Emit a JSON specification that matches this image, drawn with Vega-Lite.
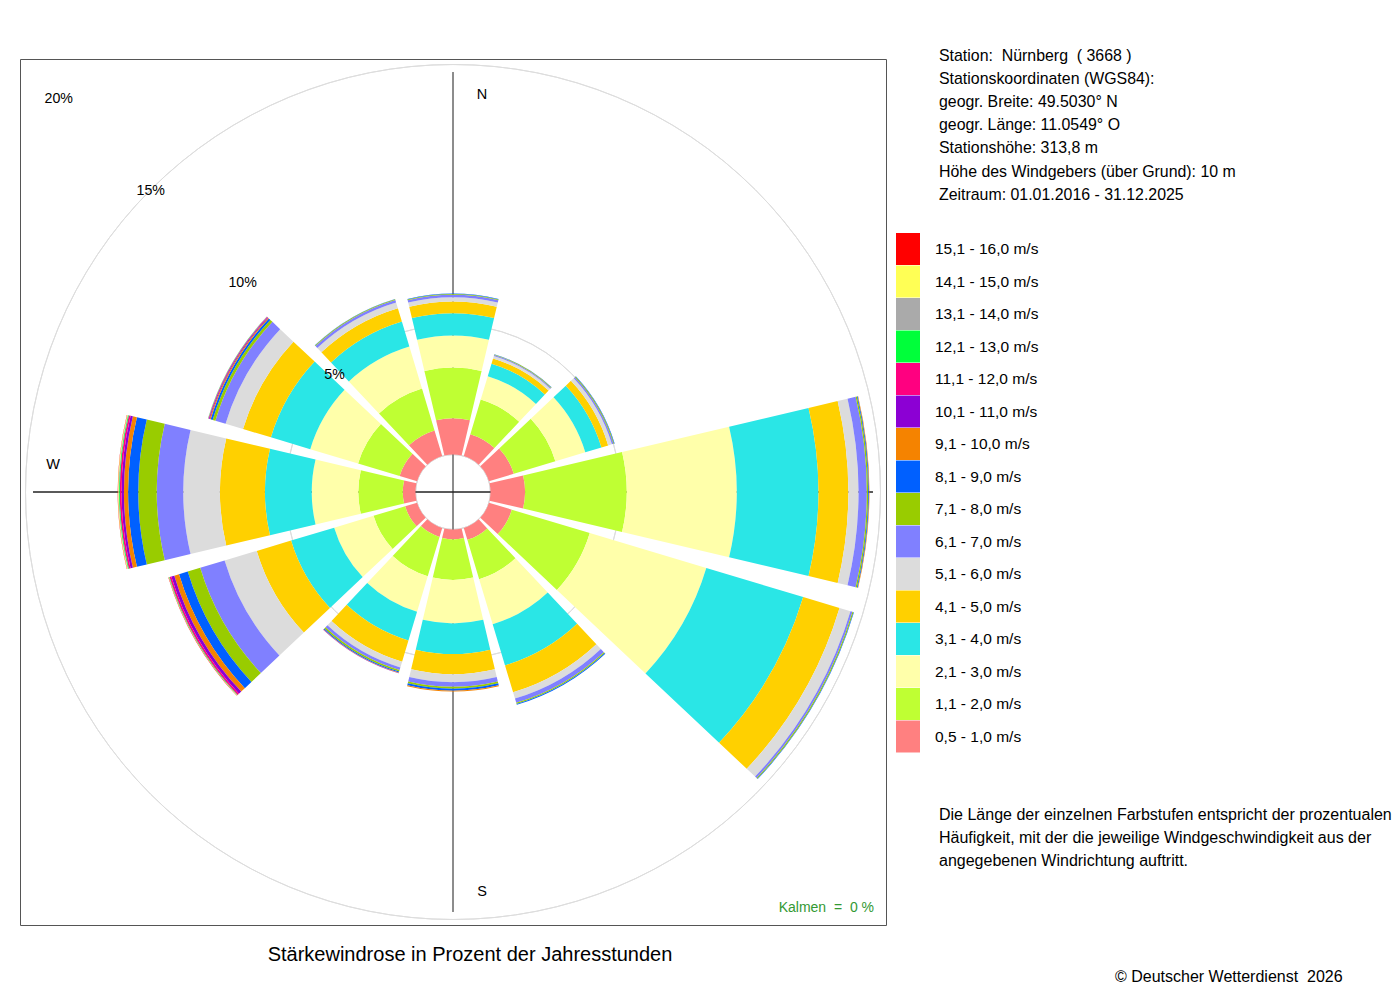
{
  "$schema": "https://vega.github.io/schema/vega-lite/v6.json",
  "width": 866,
  "height": 866,
  "autosize": "none",
  "padding": {"left": 20, "top": 59, "right": 514, "bottom": 75},
  "background": "white",
  "title": {
    "text": [
      "Station:\u00a0 Nürnberg\u00a0 ( 3668 )",
      "Stationskoordinaten (WGS84):",
      "geogr. Breite: 49.5030° N",
      "geogr. Länge: 11.0549° O",
      "Stationshöhe: 313,8 m",
      "Höhe des Windgebers (über Grund): 10 m",
      "Zeitraum: 01.01.2016 - 31.12.2025"
    ],
    "subtitle": [
      "Die Länge der einzelnen Farbstufen entspricht der prozentualen",
      "Häufigkeit, mit der die jeweilige Windgeschwindigkeit aus der",
      "angegebenen Windrichtung auftritt."
    ],
    "orient": "top",
    "anchor": "start",
    "frame": "group",
    "offset": 0,
    "dx": 919,
    "dy": 810.5,
    "font": "Liberation Sans",
    "fontSize": 15.9,
    "fontWeight": "normal",
    "lineHeight": 23.2,
    "color": "black",
    "subtitleFont": "Liberation Sans",
    "subtitleFontSize": 16,
    "subtitleLineHeight": 23.1,
    "subtitleColor": "black",
    "subtitlePadding": 604.6
  },
  "config": {
    "font": "Liberation Sans",
    "view": {"stroke": "#555555", "strokeWidth": 1}
  },
  "layer": [
    {
      "data": {"values": [{"pct": 0}, {"pct": 5}, {"pct": 10}, {"pct": 15}, {"pct": 20}]},
      "mark": {"type": "arc", "filled": false, "stroke": "#dddddd", "strokeWidth": 1, "clip": true},
      "encoding": {
        "theta": {"datum": 0, "type": "quantitative", "scale": {"type": "linear", "domain": [0, 360], "range": [0, 6.283185307179586], "zero": false, "nice": false}},
        "theta2": {"datum": 360},
        "radius": {"field": "pct", "type": "quantitative", "scale": {"type": "linear", "domain": [0, 20], "range": [37.5, 557.5], "zero": false, "nice": false}},
        "radius2": {"value": 0}
      }
    },
    {
      "data": {"values": [{"dir": 0}, {"dir": 180}]},
      "mark": {"type": "arc", "filled": false, "stroke": "#666666", "strokeWidth": 1},
      "encoding": {
        "theta": {"field": "dir", "type": "quantitative", "stack": null},
        "theta2": {"field": "dir"},
        "radius": {"datum": 14.71, "type": "quantitative"},
        "radius2": {"value": 0}
      }
    },
    {
      "data": {"values": [{"dir": 90}, {"dir": 270}]},
      "mark": {"type": "arc", "filled": false, "stroke": "#222222", "strokeWidth": 1},
      "encoding": {
        "theta": {"field": "dir", "type": "quantitative", "stack": null},
        "theta2": {"field": "dir"},
        "radius": {"datum": 14.71, "type": "quantitative"},
        "radius2": {"value": 0}
      }
    },
    {
      "data": {"values": [
        {"dir": 0, "k": "0,5 - 1,0 m/s", "von": 0, "bis": 1.39},
        {"dir": 0, "k": "1,1 - 2,0 m/s", "von": 1.39, "bis": 3.34},
        {"dir": 0, "k": "2,1 - 3,0 m/s", "von": 3.34, "bis": 4.57},
        {"dir": 0, "k": "3,1 - 4,0 m/s", "von": 4.57, "bis": 5.43},
        {"dir": 0, "k": "4,1 - 5,0 m/s", "von": 5.43, "bis": 5.88},
        {"dir": 0, "k": "5,1 - 6,0 m/s", "von": 5.88, "bis": 6.05},
        {"dir": 0, "k": "6,1 - 7,0 m/s", "von": 6.05, "bis": 6.14},
        {"dir": 0, "k": "7,1 - 8,0 m/s", "von": 6.14, "bis": 6.17},
        {"dir": 0, "k": "8,1 - 9,0 m/s", "von": 6.17, "bis": 6.19},

        {"dir": 30, "k": "0,5 - 1,0 m/s", "von": 0, "bis": 0.88},
        {"dir": 30, "k": "1,1 - 2,0 m/s", "von": 0.88, "bis": 2.27},
        {"dir": 30, "k": "2,1 - 3,0 m/s", "von": 2.27, "bis": 3.21},
        {"dir": 30, "k": "3,1 - 4,0 m/s", "von": 3.21, "bis": 3.71},
        {"dir": 30, "k": "4,1 - 5,0 m/s", "von": 3.71, "bis": 3.92},
        {"dir": 30, "k": "5,1 - 6,0 m/s", "von": 3.92, "bis": 4.02},
        {"dir": 30, "k": "6,1 - 7,0 m/s", "von": 4.02, "bis": 4.06},
        {"dir": 30, "k": "7,1 - 8,0 m/s", "von": 4.06, "bis": 4.08},
        {"dir": 30, "k": "8,1 - 9,0 m/s", "von": 4.08, "bis": 4.09},

        {"dir": 60, "k": "0,5 - 1,0 m/s", "von": 0, "bis": 1.0},
        {"dir": 60, "k": "1,1 - 2,0 m/s", "von": 1.0, "bis": 2.67},
        {"dir": 60, "k": "2,1 - 3,0 m/s", "von": 2.67, "bis": 3.87},
        {"dir": 60, "k": "3,1 - 4,0 m/s", "von": 3.87, "bis": 4.52},
        {"dir": 60, "k": "4,1 - 5,0 m/s", "von": 4.52, "bis": 4.79},
        {"dir": 60, "k": "5,1 - 6,0 m/s", "von": 4.79, "bis": 4.94},
        {"dir": 60, "k": "6,1 - 7,0 m/s", "von": 4.94, "bis": 5.0},
        {"dir": 60, "k": "7,1 - 8,0 m/s", "von": 5.0, "bis": 5.03},
        {"dir": 60, "k": "8,1 - 9,0 m/s", "von": 5.03, "bis": 5.05},

        {"dir": 90, "k": "0,5 - 1,0 m/s", "von": 0, "bis": 1.33},
        {"dir": 90, "k": "1,1 - 2,0 m/s", "von": 1.33, "bis": 5.24},
        {"dir": 90, "k": "2,1 - 3,0 m/s", "von": 5.24, "bis": 9.47},
        {"dir": 90, "k": "3,1 - 4,0 m/s", "von": 9.47, "bis": 12.61},
        {"dir": 90, "k": "4,1 - 5,0 m/s", "von": 12.61, "bis": 13.76},
        {"dir": 90, "k": "5,1 - 6,0 m/s", "von": 13.76, "bis": 14.15},
        {"dir": 90, "k": "6,1 - 7,0 m/s", "von": 14.15, "bis": 14.47},
        {"dir": 90, "k": "7,1 - 8,0 m/s", "von": 14.47, "bis": 14.52},
        {"dir": 90, "k": "8,1 - 9,0 m/s", "von": 14.52, "bis": 14.55},
        {"dir": 90, "k": "9,1 - 10,0 m/s", "von": 14.55, "bis": 14.57},

        {"dir": 120, "k": "0,5 - 1,0 m/s", "von": 0, "bis": 0.92},
        {"dir": 120, "k": "1,1 - 2,0 m/s", "von": 0.92, "bis": 4.05},
        {"dir": 120, "k": "2,1 - 3,0 m/s", "von": 4.05, "bis": 8.73},
        {"dir": 120, "k": "3,1 - 4,0 m/s", "von": 8.73, "bis": 12.62},
        {"dir": 120, "k": "4,1 - 5,0 m/s", "von": 12.62, "bis": 14.08},
        {"dir": 120, "k": "5,1 - 6,0 m/s", "von": 14.08, "bis": 14.52},
        {"dir": 120, "k": "6,1 - 7,0 m/s", "von": 14.52, "bis": 14.6},
        {"dir": 120, "k": "7,1 - 8,0 m/s", "von": 14.6, "bis": 14.64},
        {"dir": 120, "k": "8,1 - 9,0 m/s", "von": 14.64, "bis": 14.66},

        {"dir": 150, "k": "0,5 - 1,0 m/s", "von": 0, "bis": 0.48},
        {"dir": 150, "k": "1,1 - 2,0 m/s", "von": 0.48, "bis": 2.06},
        {"dir": 150, "k": "2,1 - 3,0 m/s", "von": 2.06, "bis": 3.87},
        {"dir": 150, "k": "3,1 - 4,0 m/s", "von": 3.87, "bis": 5.52},
        {"dir": 150, "k": "4,1 - 5,0 m/s", "von": 5.52, "bis": 6.6},
        {"dir": 150, "k": "5,1 - 6,0 m/s", "von": 6.6, "bis": 6.85},
        {"dir": 150, "k": "6,1 - 7,0 m/s", "von": 6.85, "bis": 7.02},
        {"dir": 150, "k": "7,1 - 8,0 m/s", "von": 7.02, "bis": 7.07},
        {"dir": 150, "k": "8,1 - 9,0 m/s", "von": 7.07, "bis": 7.1},

        {"dir": 180, "k": "0,5 - 1,0 m/s", "von": 0, "bis": 0.38},
        {"dir": 180, "k": "1,1 - 2,0 m/s", "von": 0.38, "bis": 1.94},
        {"dir": 180, "k": "2,1 - 3,0 m/s", "von": 1.94, "bis": 3.61},
        {"dir": 180, "k": "3,1 - 4,0 m/s", "von": 3.61, "bis": 4.79},
        {"dir": 180, "k": "4,1 - 5,0 m/s", "von": 4.79, "bis": 5.56},
        {"dir": 180, "k": "5,1 - 6,0 m/s", "von": 5.56, "bis": 5.87},
        {"dir": 180, "k": "6,1 - 7,0 m/s", "von": 5.87, "bis": 6.05},
        {"dir": 180, "k": "7,1 - 8,0 m/s", "von": 6.05, "bis": 6.12},
        {"dir": 180, "k": "8,1 - 9,0 m/s", "von": 6.12, "bis": 6.2},
        {"dir": 180, "k": "9,1 - 10,0 m/s", "von": 6.2, "bis": 6.23},

        {"dir": 210, "k": "0,5 - 1,0 m/s", "von": 0, "bis": 0.36},
        {"dir": 210, "k": "1,1 - 2,0 m/s", "von": 0.36, "bis": 1.94},
        {"dir": 210, "k": "2,1 - 3,0 m/s", "von": 1.94, "bis": 3.37},
        {"dir": 210, "k": "3,1 - 4,0 m/s", "von": 3.37, "bis": 4.52},
        {"dir": 210, "k": "4,1 - 5,0 m/s", "von": 4.52, "bis": 5.37},
        {"dir": 210, "k": "5,1 - 6,0 m/s", "von": 5.37, "bis": 5.6},
        {"dir": 210, "k": "6,1 - 7,0 m/s", "von": 5.6, "bis": 5.71},
        {"dir": 210, "k": "7,1 - 8,0 m/s", "von": 5.71, "bis": 5.77},
        {"dir": 210, "k": "8,1 - 9,0 m/s", "von": 5.77, "bis": 5.81},
        {"dir": 210, "k": "9,1 - 10,0 m/s", "von": 5.81, "bis": 5.83},
        {"dir": 210, "k": "10,1 - 11,0 m/s", "von": 5.83, "bis": 5.84},

        {"dir": 240, "k": "0,5 - 1,0 m/s", "von": 0, "bis": 0.48},
        {"dir": 240, "k": "1,1 - 2,0 m/s", "von": 0.48, "bis": 1.75},
        {"dir": 240, "k": "2,1 - 3,0 m/s", "von": 1.75, "bis": 3.33},
        {"dir": 240, "k": "3,1 - 4,0 m/s", "von": 3.33, "bis": 5.06},
        {"dir": 240, "k": "4,1 - 5,0 m/s", "von": 5.06, "bis": 6.44},
        {"dir": 240, "k": "5,1 - 6,0 m/s", "von": 6.44, "bis": 7.73},
        {"dir": 240, "k": "6,1 - 7,0 m/s", "von": 7.73, "bis": 8.71},
        {"dir": 240, "k": "7,1 - 8,0 m/s", "von": 8.71, "bis": 9.21},
        {"dir": 240, "k": "8,1 - 9,0 m/s", "von": 9.21, "bis": 9.56},
        {"dir": 240, "k": "9,1 - 10,0 m/s", "von": 9.56, "bis": 9.75},
        {"dir": 240, "k": "10,1 - 11,0 m/s", "von": 9.75, "bis": 9.87},
        {"dir": 240, "k": "11,1 - 12,0 m/s", "von": 9.87, "bis": 9.94},
        {"dir": 240, "k": "12,1 - 13,0 m/s", "von": 9.94, "bis": 9.96},
        {"dir": 240, "k": "13,1 - 14,0 m/s", "von": 9.96, "bis": 9.97},
        {"dir": 240, "k": "14,1 - 15,0 m/s", "von": 9.97, "bis": 9.98},
        {"dir": 240, "k": "15,1 - 16,0 m/s", "von": 9.98, "bis": 9.99},

        {"dir": 270, "k": "0,5 - 1,0 m/s", "von": 0, "bis": 0.49},
        {"dir": 270, "k": "1,1 - 2,0 m/s", "von": 0.49, "bis": 2.2},
        {"dir": 270, "k": "2,1 - 3,0 m/s", "von": 2.2, "bis": 3.99},
        {"dir": 270, "k": "3,1 - 4,0 m/s", "von": 3.99, "bis": 5.79},
        {"dir": 270, "k": "4,1 - 5,0 m/s", "von": 5.79, "bis": 7.52},
        {"dir": 270, "k": "5,1 - 6,0 m/s", "von": 7.52, "bis": 8.93},
        {"dir": 270, "k": "6,1 - 7,0 m/s", "von": 8.93, "bis": 9.95},
        {"dir": 270, "k": "7,1 - 8,0 m/s", "von": 9.95, "bis": 10.66},
        {"dir": 270, "k": "8,1 - 9,0 m/s", "von": 10.66, "bis": 11.05},
        {"dir": 270, "k": "9,1 - 10,0 m/s", "von": 11.05, "bis": 11.21},
        {"dir": 270, "k": "10,1 - 11,0 m/s", "von": 11.21, "bis": 11.3},
        {"dir": 270, "k": "11,1 - 12,0 m/s", "von": 11.3, "bis": 11.37},
        {"dir": 270, "k": "12,1 - 13,0 m/s", "von": 11.37, "bis": 11.4},
        {"dir": 270, "k": "13,1 - 14,0 m/s", "von": 11.4, "bis": 11.42},
        {"dir": 270, "k": "14,1 - 15,0 m/s", "von": 11.42, "bis": 11.44},
        {"dir": 270, "k": "15,1 - 16,0 m/s", "von": 11.44, "bis": 11.45},

        {"dir": 300, "k": "0,5 - 1,0 m/s", "von": 0, "bis": 0.7},
        {"dir": 300, "k": "1,1 - 2,0 m/s", "von": 0.7, "bis": 2.37},
        {"dir": 300, "k": "2,1 - 3,0 m/s", "von": 2.37, "bis": 4.29},
        {"dir": 300, "k": "3,1 - 4,0 m/s", "von": 4.29, "bis": 5.87},
        {"dir": 300, "k": "4,1 - 5,0 m/s", "von": 5.87, "bis": 6.99},
        {"dir": 300, "k": "5,1 - 6,0 m/s", "von": 6.99, "bis": 7.69},
        {"dir": 300, "k": "6,1 - 7,0 m/s", "von": 7.69, "bis": 8.1},
        {"dir": 300, "k": "7,1 - 8,0 m/s", "von": 8.1, "bis": 8.21},
        {"dir": 300, "k": "8,1 - 9,0 m/s", "von": 8.21, "bis": 8.29},
        {"dir": 300, "k": "9,1 - 10,0 m/s", "von": 8.29, "bis": 8.33},
        {"dir": 300, "k": "10,1 - 11,0 m/s", "von": 8.33, "bis": 8.36},
        {"dir": 300, "k": "11,1 - 12,0 m/s", "von": 8.36, "bis": 8.38},
        {"dir": 300, "k": "12,1 - 13,0 m/s", "von": 8.38, "bis": 8.39},
        {"dir": 300, "k": "13,1 - 14,0 m/s", "von": 8.39, "bis": 8.4},

        {"dir": 330, "k": "0,5 - 1,0 m/s", "von": 0, "bis": 1.03},
        {"dir": 330, "k": "1,1 - 2,0 m/s", "von": 1.03, "bis": 2.71},
        {"dir": 330, "k": "2,1 - 3,0 m/s", "von": 2.71, "bis": 4.4},
        {"dir": 330, "k": "3,1 - 4,0 m/s", "von": 4.4, "bis": 5.4},
        {"dir": 330, "k": "4,1 - 5,0 m/s", "von": 5.4, "bis": 5.94},
        {"dir": 330, "k": "5,1 - 6,0 m/s", "von": 5.94, "bis": 6.17},
        {"dir": 330, "k": "6,1 - 7,0 m/s", "von": 6.17, "bis": 6.27},
        {"dir": 330, "k": "7,1 - 8,0 m/s", "von": 6.27, "bis": 6.3},
        {"dir": 330, "k": "8,1 - 9,0 m/s", "von": 6.3, "bis": 6.31}
      ]},
      "mark": {"type": "arc", "thetaOffset": -0.2321, "theta2Offset": 0.2321, "strokeWidth": 0},
      "encoding": {
        "theta": {"field": "dir", "type": "quantitative", "stack": null},
        "theta2": {"field": "dir"},
        "radius": {"field": "bis", "type": "quantitative"},
        "radius2": {"field": "von"},
        "color": {
          "field": "k",
          "type": "nominal",
          "scale": {
            "domain": ["15,1 - 16,0 m/s", "14,1 - 15,0 m/s", "13,1 - 14,0 m/s", "12,1 - 13,0 m/s", "11,1 - 12,0 m/s", "10,1 - 11,0 m/s", "9,1 - 10,0 m/s", "8,1 - 9,0 m/s", "7,1 - 8,0 m/s", "6,1 - 7,0 m/s", "5,1 - 6,0 m/s", "4,1 - 5,0 m/s", "3,1 - 4,0 m/s", "2,1 - 3,0 m/s", "1,1 - 2,0 m/s", "0,5 - 1,0 m/s"],
            "range": ["#ff0000", "#ffff55", "#aaaaaa", "#00ff3a", "#ff0080", "#8c00d4", "#f58300", "#0060ff", "#99cc00", "#8080ff", "#dcdcdc", "#ffd000", "#2ae6e6", "#ffffaa", "#bfff33", "#ff8080"]
          },
          "legend": {
            "orient": "none",
            "legendX": 872,
            "legendY": 174,
            "title": null,
            "padding": 0,
            "symbolType": "M-0.75,-1H0.75V1H-0.75Z",
            "symbolSize": 1024,
            "symbolStrokeWidth": 0,
            "symbolOpacity": 1,
            "rowPadding": 0.5,
            "labelFont": "Liberation Sans",
            "labelFontSize": 15.5,
            "labelColor": "black",
            "labelOffset": 11,
            "labelLimit": 300
          }
        }
      }
    },
    {
      "data": {"values": [{"pct": 5, "label": "5%"}, {"pct": 10, "label": "10%"}, {"pct": 15, "label": "15%"}, {"pct": 20, "label": "20%"}]},
      "mark": {"type": "text", "fontSize": 14.2, "color": "black", "align": "center", "baseline": "middle", "dy": 1.5},
      "encoding": {
        "theta": {"datum": 315, "type": "quantitative"},
        "radius": {"field": "pct", "type": "quantitative"},
        "text": {"field": "label"}
      }
    },
    {
      "data": {"values": [{"richtung": "N", "dir": 0}, {"richtung": "S", "dir": 180}]},
      "mark": {"type": "text", "fontSize": 14.5, "color": "black", "align": "center", "baseline": "middle", "dx": 29, "dy": 1.5},
      "encoding": {
        "theta": {"field": "dir", "type": "quantitative", "stack": null},
        "radius": {"datum": 13.9, "type": "quantitative"},
        "text": {"field": "richtung"}
      }
    },
    {
      "data": {"values": [{"richtung": "W", "dir": 270}]},
      "mark": {"type": "text", "fontSize": 14.5, "color": "black", "align": "center", "baseline": "middle", "dy": -27},
      "encoding": {
        "theta": {"field": "dir", "type": "quantitative", "stack": null},
        "radius": {"datum": 13.94, "type": "quantitative"},
        "text": {"field": "richtung"}
      }
    },
    {
      "data": {"values": [{"text": "Kalmen\u00a0 =\u00a0 0 %"}]},
      "mark": {"type": "text", "fontSize": 14, "color": "#339933", "align": "right", "baseline": "middle", "dx": -12, "dy": -17},
      "encoding": {
        "x": {"value": "width"},
        "y": {"value": "height"},
        "text": {"field": "text"}
      }
    },
    {
      "data": {"values": [{"text": "Stärkewindrose in Prozent der Jahresstunden"}]},
      "mark": {"type": "text", "fontSize": 20, "color": "black", "align": "center", "baseline": "middle", "dx": -416, "dy": 29.5},
      "encoding": {
        "x": {"value": "width"},
        "y": {"value": "height"},
        "text": {"field": "text"}
      }
    },
    {
      "data": {"values": [{"text": "© Deutscher Wetterdienst\u00a0 2026"}]},
      "mark": {"type": "text", "fontSize": 16, "color": "black", "align": "left", "baseline": "middle", "dx": 229, "dy": 52},
      "encoding": {
        "x": {"value": "width"},
        "y": {"value": "height"},
        "text": {"field": "text"}
      }
    }
  ]
}
